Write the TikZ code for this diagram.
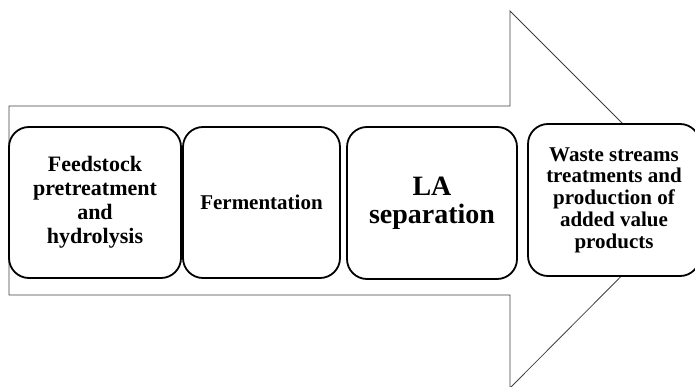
\documentclass[tikz,border=0pt]{standalone}
\usepackage{fontspec}
\setmainfont{Liberation Serif}
\begin{document}
\begin{tikzpicture}[x=1pt,y=-1pt,
  stagebox/.style={draw=black, line width=1.8pt, rounded corners=20pt, fill=white, inner sep=0pt, align=center, font=\bfseries},
  arrowline/.style={draw=black!75, line width=0.8pt, line join=miter}]
\useasboundingbox (0,0) rectangle (695,387);
\draw[arrowline] (9,106) -- (510,106) -- (510,11) -- (698,199) -- (510,388) -- (510,295) -- (9,295) -- cycle;
\node[stagebox, minimum width=172pt, minimum height=151pt, font=\bfseries\fontsize{22}{24}\selectfont] (s1) at (95,202.5) {Feedstock\\pretreatment\\and\\hydrolysis};
\node[stagebox, minimum width=157pt, minimum height=151pt, font=\bfseries\fontsize{21}{24}\selectfont] (s2) at (261.5,202.5) {Fermentation};
\node[stagebox, minimum width=170pt, minimum height=152pt, font=\bfseries\fontsize{28}{28}\selectfont] (s3) at (432,203) {LA\\separation};
\node[stagebox, minimum width=172pt, minimum height=152pt, font=\bfseries\fontsize{21}{21.7}\selectfont] (s4) at (614,200) {Waste streams\\treatments and\\production of\\added value\\products};
\end{tikzpicture}
\end{document}
